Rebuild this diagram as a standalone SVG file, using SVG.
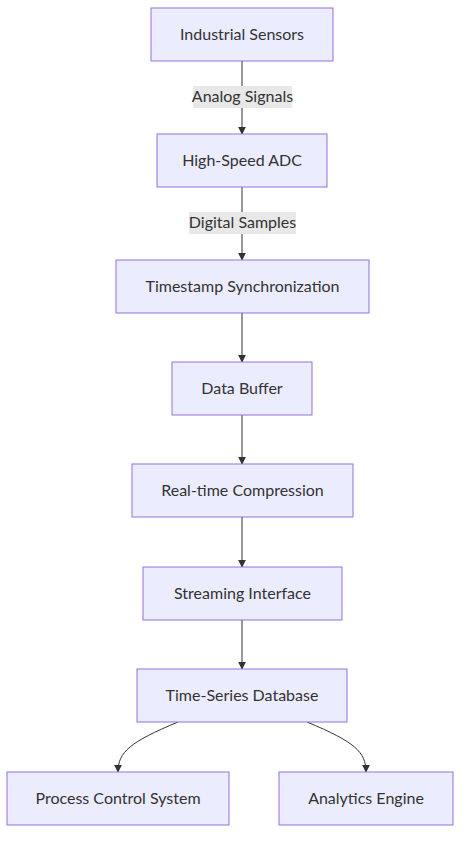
<svg xmlns="http://www.w3.org/2000/svg" width="469" height="846" viewBox="0 0 469 846">
<style>
.node rect{fill:#ECECFF;stroke:#9370DB;stroke-width:1px}
text{font-family:"Lato","Liberation Sans",sans-serif;font-size:16px;fill:#333;text-anchor:middle;dominant-baseline:central}
.edge{stroke:#333;stroke-width:1px;fill:none;marker-end:url(#arrow)}
.lbl{fill:#e8e8e8}
</style>
<defs>
<marker id="arrow" viewBox="0 0 10 10" refX="9" refY="5" markerWidth="8" markerHeight="8" markerUnits="userSpaceOnUse" orient="auto">
<path d="M0,0 L10,5 L0,10 z" fill="#333"/>
</marker>
</defs>
<rect width="469" height="846" fill="#fff"/>
<g id="edges">
<path class="edge" d="M242,61 L242,134"/>
<path class="edge" d="M242,187 L242,260"/>
<path class="edge" d="M242,313 L242,362"/>
<path class="edge" d="M242,415 L242,464"/>
<path class="edge" d="M242,517 L242,567"/>
<path class="edge" d="M242,620 L242,669"/>
<path class="edge" d="M178,722 C130,742 118,752 118,772"/>
<path class="edge" d="M307,722 C355,742 366,752 366,772"/>
<rect class="lbl" x="193" y="86" width="99" height="22"/>
<text x="242.5" y="95.5">Analog Signals</text>
<rect class="lbl" x="189" y="212" width="107" height="22"/>
<text x="242.5" y="221.5">Digital Samples</text>
</g>
<g id="n1" class="node"><rect x="151" y="8" width="182" height="53"/><text x="242" y="33">Industrial Sensors</text></g>
<g id="n2" class="node"><rect x="157" y="134" width="170" height="53"/><text x="242" y="159">High-Speed ADC</text></g>
<g id="n3" class="node"><rect x="116" y="260" width="253" height="53"/><text x="242.5" y="285">Timestamp Synchronization</text></g>
<g id="n4" class="node"><rect x="172" y="362" width="140" height="53"/><text x="242" y="387">Data Buffer</text></g>
<g id="n5" class="node"><rect x="132" y="464" width="221" height="53"/><text x="242.5" y="489">Real-time Compression</text></g>
<g id="n6" class="node"><rect x="143" y="567" width="199" height="53"/><text x="242.5" y="592">Streaming Interface</text></g>
<g id="n7" class="node"><rect x="137" y="669" width="210" height="53"/><text x="242" y="694">Time-Series Database</text></g>
<g id="n8" class="node"><rect x="7" y="772" width="222" height="53"/><text x="118" y="797">Process Control System</text></g>
<g id="n9" class="node"><rect x="279" y="772" width="174" height="53"/><text x="366" y="797">Analytics Engine</text></g>
</svg>
